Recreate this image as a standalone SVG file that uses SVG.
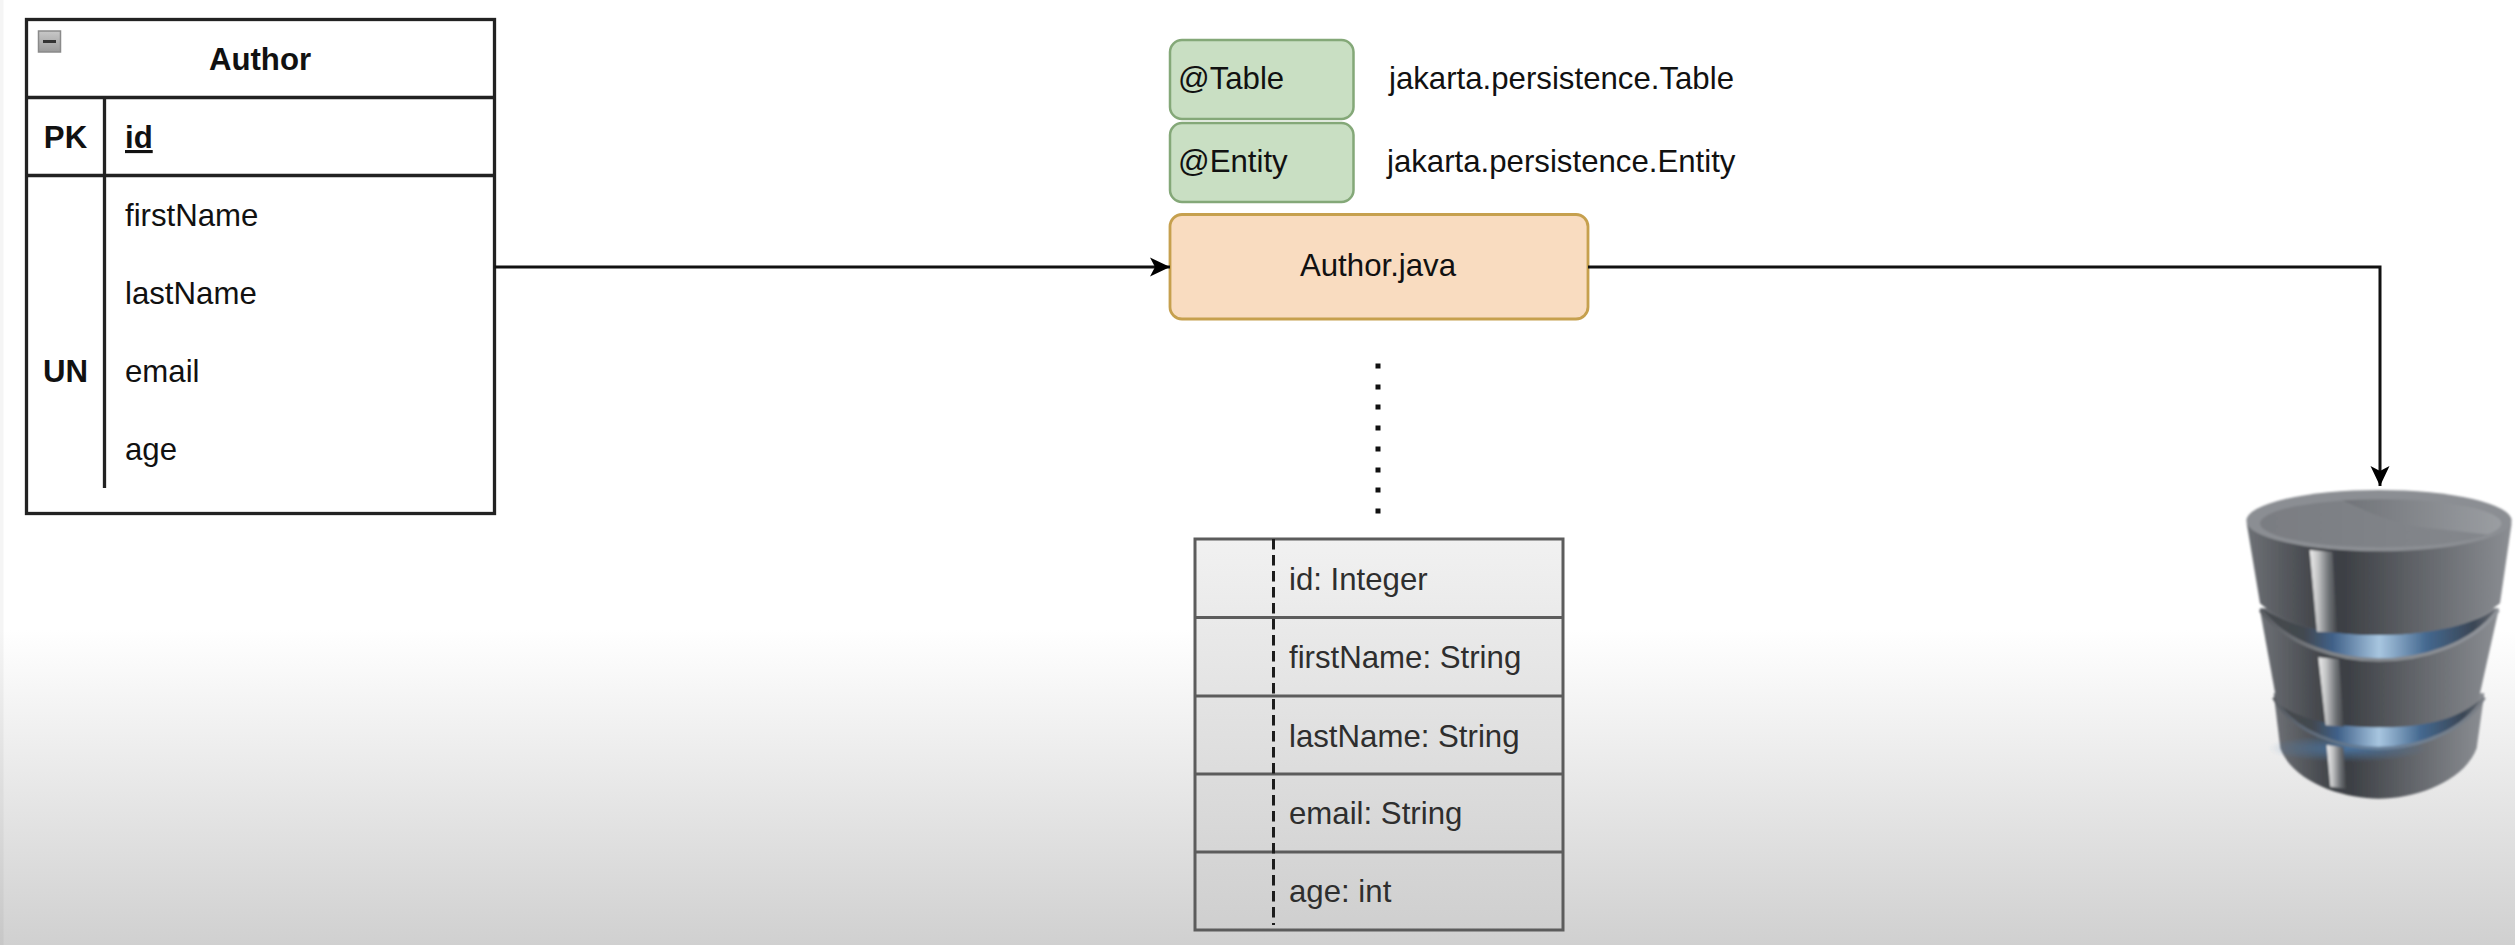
<svg xmlns="http://www.w3.org/2000/svg" width="2515" height="945" viewBox="0 0 2515 945">
<style>
text{font-family:"Liberation Sans",Arial,Helvetica,sans-serif;font-size:31.200px;fill:#111}
.b{font-weight:bold}
.m{text-anchor:middle}
.u{fill:#2e2e2e}
.t{fill:none;stroke:#222;stroke-width:3.300}
.c{fill:none;stroke:#111;stroke-width:3}
.g{fill:#c9dfc3;stroke:#84a878;stroke-width:2.500}
.o{fill:#f9dcc0;stroke:#c6a04e;stroke-width:2.800}
.l{fill:none;stroke:#5c5c5c;stroke-width:3}
.d{fill:#111}
</style>
<defs>
<linearGradient id="bg" gradientUnits="userSpaceOnUse" x1="0" y1="630" x2="0" y2="945"><stop offset="0" stop-color="#fff"/><stop offset="1" stop-color="#d0d0d0"/></linearGradient>
<linearGradient id="cell" gradientUnits="userSpaceOnUse" x1="0" y1="539" x2="0" y2="930"><stop offset="0" stop-color="#f1f1f1"/><stop offset="1" stop-color="#cfcfcf"/></linearGradient>
<linearGradient id="icon" x1="0" y1="0" x2="0" y2="1"><stop offset="0" stop-color="#c8c8c8"/><stop offset="1" stop-color="#9a9a9a"/></linearGradient>
<linearGradient id="body" x1="0" y1="0" x2="1" y2="0"><stop offset="0" stop-color="#6e7176"/><stop offset=".24" stop-color="#46494e"/><stop offset=".36" stop-color="#3c3f44"/><stop offset=".62" stop-color="#5e6166"/><stop offset="1" stop-color="#8b8e93"/></linearGradient>
<linearGradient id="shine" x1="0" y1="0" x2="1" y2="0"><stop offset="0" stop-color="#ececec"/><stop offset=".3" stop-color="#c4c5c6"/><stop offset=".7" stop-color="#6e7175"/><stop offset="1" stop-color="#44474b"/></linearGradient>
<linearGradient id="lid" x1="0" y1="0" x2="1" y2="0"><stop offset="0" stop-color="#7a7d82"/><stop offset="1" stop-color="#85888d"/></linearGradient>
<linearGradient id="lid2" x1="0" y1="0" x2="1" y2="0"><stop offset="0" stop-color="#64676c"/><stop offset="1" stop-color="#b0b3b7"/></linearGradient>
<linearGradient id="rimMid" x1="0" y1="0" x2="1" y2="0"><stop offset="0" stop-color="#585b60"/><stop offset=".3" stop-color="#7f8388"/><stop offset="1" stop-color="#90949a"/></linearGradient>
<linearGradient id="rimLow" x1="0" y1="0" x2="1" y2="0"><stop offset="0" stop-color="#585b60"/><stop offset=".45" stop-color="#66809c"/><stop offset="1" stop-color="#7a7e84"/></linearGradient>
<linearGradient id="blue" x1="0" y1="0" x2="1" y2="0"><stop offset="0" stop-color="#45484d"/><stop offset=".18" stop-color="#43484f"/><stop offset=".3" stop-color="#3f6088"/><stop offset=".5" stop-color="#a8c6e0"/><stop offset=".7" stop-color="#44688f"/><stop offset=".9" stop-color="#3a4655"/><stop offset="1" stop-color="#6a6d72"/></linearGradient>
<radialGradient id="glow" cx=".5" cy=".5" r=".5"><stop offset="0" stop-color="#4c7fb4" stop-opacity=".8"/><stop offset="1" stop-color="#4c7fb4" stop-opacity="0"/></radialGradient>
<clipPath id="lidClip"><ellipse cx="497" cy="250" rx="362" ry="72"/></clipPath>
<filter id="soft" x="-5%" y="-5%" width="110%" height="110%"><feGaussianBlur stdDeviation="2.500"/></filter>
<marker id="arrow" markerUnits="userSpaceOnUse" markerWidth="24" markerHeight="24" refX="22" refY="12" orient="auto"><path d="M2,2.500 L22,12 L2,21.500 L7,12 Z" fill="#000"/></marker>
</defs>
<rect id="background" width="2515" height="945" fill="url(#bg)"/>
<rect x="0" y="0" width="3.500" height="945" fill="#000" opacity=".04"/>
<g id="author-table">
<rect class="t" x="26.500" y="19.500" width="468" height="494"/>
<path class="t" d="M26.500,97.500H494.500M26.500,175.500H494.500M104.500,97.500V488"/>
<rect x="38.500" y="31" width="22" height="21" fill="url(#icon)" stroke="#8a8a8a" stroke-width="1.500"/>
<rect x="43" y="40" width="13" height="3" fill="#333"/>
<text class="b m" x="260" y="70">Author</text>
<text class="b m" x="65.500" y="148">PK</text>
<text class="b" x="125" y="148" text-decoration="underline">id</text>
<text x="125" y="226">firstName</text>
<text x="125" y="304">lastName</text>
<text class="b m" x="65.500" y="382">UN</text>
<text x="125" y="382">email</text>
<text x="125" y="460">age</text>
</g>
<g id="table-annotation"><rect class="g" x="1170" y="40" width="183.500" height="79" rx="12"/><text x="1178" y="89">@Table</text></g>
<g id="entity-annotation"><rect class="g" x="1170" y="123" width="183.500" height="79" rx="12"/><text x="1178" y="172">@Entity</text></g>
<g id="table-import"><text x="1389" y="89">jakarta.persistence.Table</text></g>
<g id="entity-import"><text x="1387" y="172">jakarta.persistence.Entity</text></g>
<g id="author-java"><rect class="o" x="1170" y="214.500" width="418" height="104.500" rx="12"/><text class="m" x="1378" y="276">Author.java</text></g>
<g id="class-fields">
<rect x="1195" y="539" width="368" height="391" fill="url(#cell)"/>
<path class="l" d="M1195,539H1563V930H1195ZM1195,617.500H1563M1195,696H1563M1195,774H1563M1195,852H1563"/>
<path d="M1273.500,539V925" fill="none" stroke="#1c1c1c" stroke-width="3" stroke-dasharray="10.500 5.500"/>
<text class="u" x="1289" y="590">id: Integer</text>
<text class="u" x="1289" y="668">firstName: String</text>
<text class="u" x="1289" y="747">lastName: String</text>
<text class="u" x="1289" y="824">email: String</text>
<text class="u" x="1289" y="902">age: int</text>
</g>
<g id="connectors">
<path class="c" d="M494.500,267H1170" marker-end="url(#arrow)"/>
<path class="c" d="M1588,267H2380V486" marker-end="url(#arrow)"/>
<g id="dots">
<rect class="d" x="1375.500" y="363.500" width="5" height="5"/>
<rect class="d" x="1375.500" y="384.500" width="5" height="5"/>
<rect class="d" x="1375.500" y="404.500" width="5" height="5"/>
<rect class="d" x="1375.500" y="425.500" width="5" height="5"/>
<rect class="d" x="1375.500" y="446.500" width="5" height="5"/>
<rect class="d" x="1375.500" y="467.500" width="5" height="5"/>
<rect class="d" x="1375.500" y="487.500" width="5" height="5"/>
<rect class="d" x="1375.500" y="508.500" width="5" height="5"/>
</g>
</g>
<g id="database" transform="translate(2215 440) scale(.33333)">
<g filter="url(#soft)">
<path d="M176,760 L196,925 C235,1030 390,1076 490,1076 C610,1076 750,1020 785,925 L808,760 Z" fill="url(#body)"/>
<ellipse cx="400" cy="925" rx="240" ry="42" fill="url(#glow)"/>
<path d="M178,772 C240,880 380,925 490,925 C620,925 750,870 806,772 C740,830 610,860 490,860 C370,860 260,840 178,772 Z" fill="url(#blue)"/>
<path d="M176,772 C235,880 380,925 490,925 C620,925 750,870 808,772" fill="none" stroke="url(#rimLow)" stroke-width="10"/>
<path d="M335,915 L385,922 L393,1046 L346,1040 Z" fill="url(#shine)"/>
<path d="M134,505 L186,790 C260,845 380,862 490,862 C610,862 720,845 790,782 L852,505 Z" fill="url(#body)"/>
<path d="M310,652 L372,658 L386,860 L332,856 Z" fill="url(#shine)"/>
<path d="M140,505 C220,615 380,658 490,658 C620,658 770,615 846,505 C760,565 620,585 490,585 C380,585 240,570 140,505 Z" fill="url(#blue)"/>
<path d="M136,510 C220,620 380,660 490,660 C620,660 770,617 850,510" fill="none" stroke="url(#rimMid)" stroke-width="11"/>
<path d="M95,250 L135,490 C220,565 380,585 490,585 C620,585 760,565 855,490 L890,250 Z" fill="url(#body)"/>
<path d="M284,330 L352,336 L366,578 L306,575 Z" fill="url(#shine)"/>
<ellipse cx="492" cy="242" rx="398" ry="92" fill="#8b8e93"/>
<ellipse cx="497" cy="250" rx="362" ry="72" fill="url(#lid)"/>
<g clip-path="url(#lidClip)"><path d="M375,178 C450,210 510,245 620,262 L880,290 L880,170 Z" fill="url(#lid2)" opacity=".55"/></g>
</g>
</g>
</svg>
